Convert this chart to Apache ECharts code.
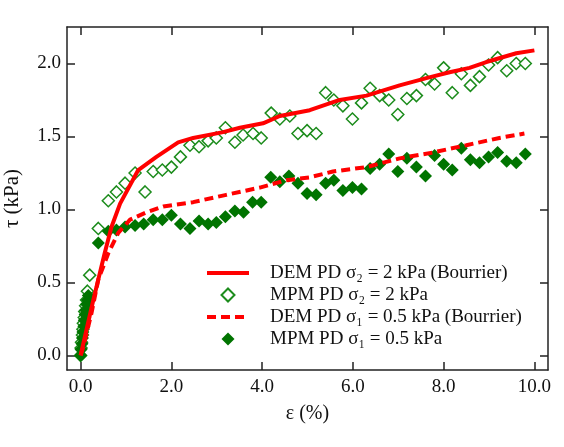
<!DOCTYPE html>
<html lang="en">
<head>
<meta charset="UTF-8">
<title>tau vs strain</title>
<script src="https://cdn.jsdelivr.net/npm/echarts@6/dist/echarts.min.js"></script>
<style>
html, body { margin: 0; padding: 0; background: #fff; }
#chart { width: 564px; height: 447px; }
</style>
</head>
<body>
<div id="chart"></div>
<script>
// strain (%) , shear stress (kPa)
var demHigh = [
    [0, 0], [0.28, 0.38], [0.53, 0.70], [0.68, 0.88], [0.87, 1.04], [1.27, 1.27],
    [1.67, 1.36], [2.15, 1.46], [2.48, 1.49], [3.14, 1.53], [3.51, 1.56], [4.02, 1.59],
    [4.39, 1.64], [5.05, 1.68], [5.71, 1.75], [6.30, 1.78], [7.03, 1.85], [7.62, 1.90],
    [8.13, 1.94], [8.57, 1.97], [8.94, 2.01], [9.60, 2.07], [10.0, 2.09]
];
var demLow = [
    [0, 0], [0.06, 0.06], [0.24, 0.29], [0.39, 0.52], [0.61, 0.70], [0.83, 0.84],
    [1.09, 0.93], [1.45, 0.98], [1.82, 1.02], [2.48, 1.05], [3.21, 1.10], [3.95, 1.15],
    [4.53, 1.20], [5.05, 1.22], [5.56, 1.26], [6.30, 1.29], [7.03, 1.35], [7.76, 1.39],
    [8.50, 1.44], [9.23, 1.49], [9.78, 1.52]
];
var mpmHigh = [
    [0, 0], [0.01, 0.05], [0.02, 0.09], [0.04, 0.14], [0.05, 0.18], [0.06, 0.22],
    [0.08, 0.26], [0.09, 0.30], [0.11, 0.34], [0.13, 0.38], [0.15, 0.44], [0.20, 0.55],
    [0.39, 0.87], [0.61, 1.06], [0.79, 1.12], [0.98, 1.18], [1.20, 1.25], [1.42, 1.12],
    [1.60, 1.26], [1.80, 1.27], [2.00, 1.29], [2.20, 1.36], [2.41, 1.44], [2.61, 1.43],
    [2.81, 1.47], [2.99, 1.49], [3.19, 1.56], [3.40, 1.46], [3.58, 1.51], [3.80, 1.52],
    [3.98, 1.49], [4.20, 1.66], [4.39, 1.62], [4.61, 1.64], [4.79, 1.52], [4.99, 1.54],
    [5.19, 1.52], [5.40, 1.80], [5.58, 1.75], [5.78, 1.71], [5.99, 1.62], [6.19, 1.73],
    [6.38, 1.83], [6.59, 1.78], [6.79, 1.75], [6.99, 1.65], [7.19, 1.76], [7.40, 1.78],
    [7.60, 1.89], [7.80, 1.86], [8.00, 1.97], [8.19, 1.80], [8.39, 1.93], [8.59, 1.85],
    [8.79, 1.91], [8.99, 1.99], [9.19, 2.04], [9.39, 1.95], [9.60, 2.00], [9.80, 2.00]
];
var mpmLow = [
    [0, 0], [0.01, 0.04], [0.03, 0.08], [0.04, 0.12], [0.05, 0.16], [0.07, 0.20],
    [0.08, 0.24], [0.10, 0.28], [0.11, 0.31], [0.13, 0.35], [0.15, 0.38], [0.17, 0.41],
    [0.39, 0.77], [0.61, 0.85], [0.79, 0.86], [0.98, 0.88], [1.20, 0.89], [1.39, 0.90],
    [1.60, 0.93], [1.80, 0.93], [2.00, 0.96], [2.20, 0.90], [2.41, 0.87], [2.61, 0.92],
    [2.81, 0.90], [2.99, 0.91], [3.19, 0.95], [3.40, 0.99], [3.59, 0.98], [3.79, 1.05],
    [3.98, 1.05], [4.19, 1.22], [4.39, 1.19], [4.59, 1.23], [4.79, 1.18], [4.99, 1.11],
    [5.19, 1.10], [5.40, 1.18], [5.58, 1.20], [5.78, 1.13], [5.99, 1.15], [6.19, 1.14],
    [6.38, 1.28], [6.59, 1.31], [6.79, 1.38], [6.99, 1.26], [7.19, 1.35], [7.40, 1.29],
    [7.60, 1.23], [7.80, 1.37], [8.00, 1.31], [8.19, 1.27], [8.39, 1.42], [8.59, 1.34],
    [8.79, 1.32], [8.99, 1.36], [9.19, 1.39], [9.39, 1.33], [9.60, 1.32], [9.80, 1.38]
];
var xTicks = [0, 2, 4, 6, 8, 10];
var yTicks = [0, 0.5, 1, 1.5, 2];
var names = [
    'DEM PD σ₂ = 2 kPa (Bourrier)',
    'MPM PD σ₂ = 2 kPa',
    'DEM PD σ₁ = 0.5 kPa (Bourrier)',
    'MPM PD σ₁ = 0.5 kPa'
];

var font = 'Liberation Serif';
var frame = { show: true, onZero: false, lineStyle: { color: '#222', width: 1.5 } };
// diamond centred in a 42-wide box so the legend does not stretch it
var diamondIcon = 'path://M0,6.5L0,6.5M42,6.5L42,6.5M21,0L27.5,6.5L21,13L14.5,6.5Z';

function xAxisOf(pos, labels) {
    return {
        type: 'value', position: pos, min: -0.3, max: 10.3,
        name: labels ? 'ε (%)' : '', nameLocation: 'middle', nameGap: 34,
        nameTextStyle: { fontFamily: font, fontSize: 20, color: '#111' },
        axisLine: frame,
        axisTick: { show: true, inside: true, length: 8, customValues: xTicks, lineStyle: { color: '#222', width: 1.5 } },
        axisLabel: {
            show: labels, customValues: xTicks, margin: 8,
            fontFamily: font, fontSize: 19, color: '#111',
            formatter: function (v) { return v.toFixed(1); }
        },
        splitLine: { show: false }
    };
}
function yAxisOf(pos, labels) {
    return {
        type: 'value', position: pos, min: -0.1, max: 2.25,
        name: labels ? 'τ (kPa)' : '', nameLocation: 'middle', nameGap: 44,
        nameTextStyle: { fontFamily: font, fontSize: 21, color: '#111' },
        axisLine: frame,
        axisTick: { show: true, inside: true, length: 8, customValues: yTicks, lineStyle: { color: '#222', width: 1.5 } },
        axisLabel: {
            show: labels, customValues: yTicks, margin: 6,
            fontFamily: font, fontSize: 19, color: '#111',
            formatter: function (v) { return v.toFixed(1); }
        },
        splitLine: { show: false }
    };
}

var option = {
    animation: false,
    grid: { left: 67, right: 16, top: 27, bottom: 77, containLabel: false, outerBoundsMode: 'none' },
    xAxis: [xAxisOf('bottom', true), xAxisOf('top', false)],
    yAxis: [yAxisOf('left', true), yAxisOf('right', false)],
    legend: {
        data: [
            { name: names[0], itemStyle: { opacity: 0 }, lineStyle: { width: 4 } },
            { name: names[1], icon: diamondIcon },
            { name: names[2], itemStyle: { opacity: 0 }, lineStyle: { width: 4 } },
            { name: names[3], icon: diamondIcon }
        ],
        orient: 'vertical',
        left: 205, top: 262, padding: 0,
        itemWidth: 42, itemHeight: 13, itemGap: 0,
        textStyle: { fontFamily: font, fontSize: 19, color: '#111', lineHeight: 22, padding: [0, 0, 0, 16] }
    },
    series: [
        {
            name: names[1], type: 'scatter', data: mpmHigh, z: 2,
            symbol: 'diamond', symbolSize: 12,
            itemStyle: { color: '#fff', borderColor: '#1c8c1c', borderWidth: 1.5, opacity: 1 }
        },
        {
            name: names[3], type: 'scatter', data: mpmLow, z: 2,
            symbol: 'diamond', symbolSize: 13,
            itemStyle: { color: '#007400', opacity: 1 }
        },
        {
            name: names[0], type: 'line', data: demHigh, z: 3,
            showSymbol: false, symbol: 'none',
            lineStyle: { color: '#ff0000', width: 4 },
            itemStyle: { color: '#ff0000' }
        },
        {
            name: names[2], type: 'line', data: demLow, z: 3,
            showSymbol: false, symbol: 'none',
            lineStyle: { color: '#ff0000', width: 4, type: [9, 5] },
            itemStyle: { color: '#ff0000' }
        }
    ]
};

var chart = echarts.init(document.getElementById('chart'));
chart.setOption(option);
</script>
</body>
</html>
